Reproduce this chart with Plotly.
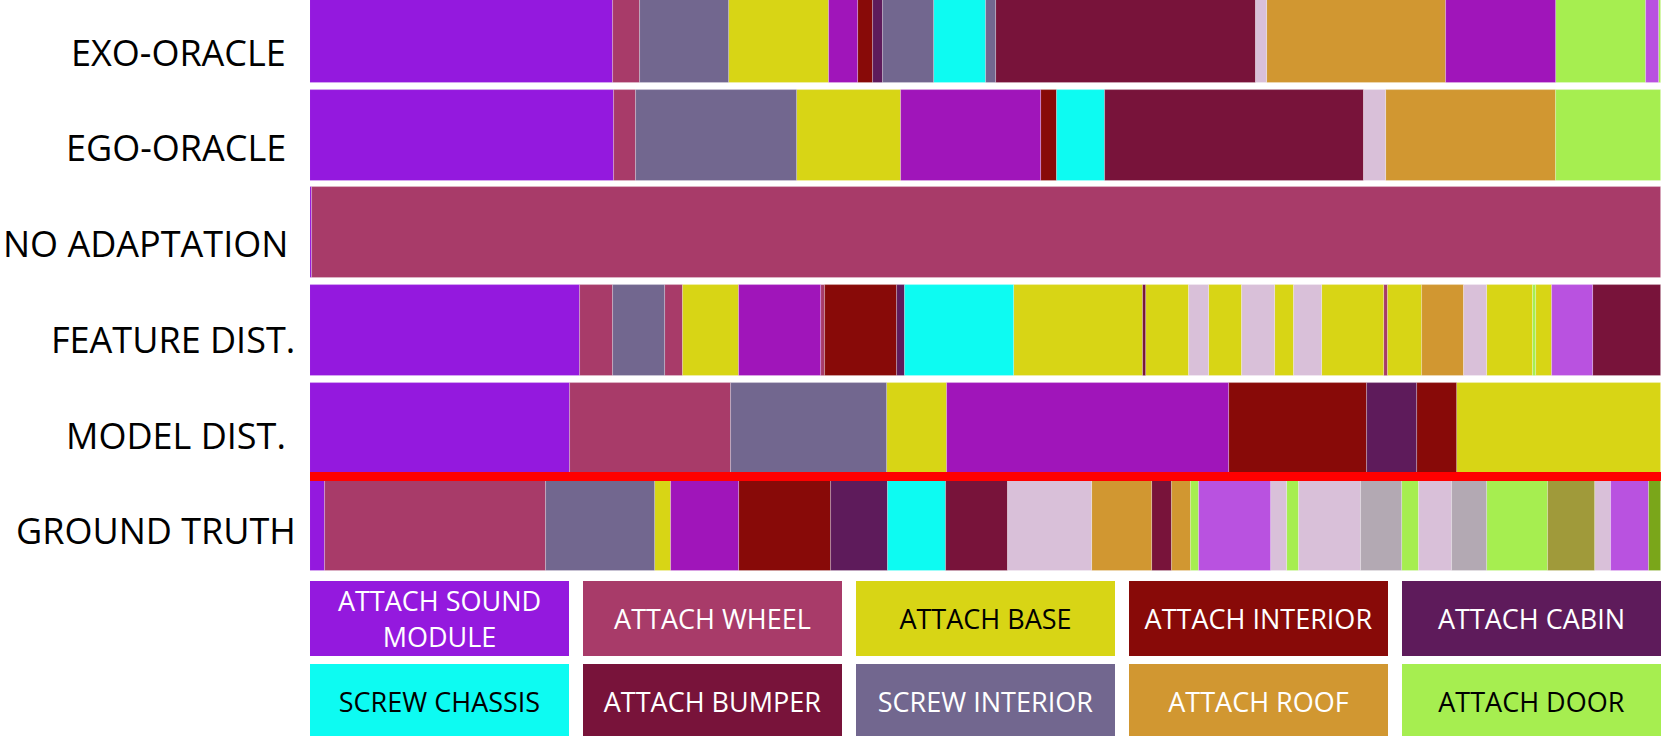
import plotly.graph_objects as go

# ---------------- data ----------------
ROWS = ["EXO-ORACLE", "EGO-ORACLE", "NO ADAPTATION", "FEATURE DIST.", "MODEL DIST.", "GROUND TRUTH"]

# action classes (first ten appear in the key)
ACTIONS = ["ATTACH SOUND MODULE", "ATTACH WHEEL", "ATTACH BASE", "ATTACH INTERIOR", "ATTACH CABIN",
           "SCREW CHASSIS", "ATTACH BUMPER", "SCREW INTERIOR", "ATTACH ROOF", "ATTACH DOOR",
           "OTHER A", "OTHER B", "OTHER C", "OTHER D", "OTHER E", "OTHER F"]
COLORS = ["#9419DE", "#A83B69", "#D8D515", "#880A08", "#5E1B5B",
          "#0DFBF2", "#78133A", "#72678F", "#D19731", "#A6EE50",
          "#A015BA", "#D9C0D9", "#B952E0", "#B3A9B3", "#A09A3A", "#7AA61A"]
KEY_LABELS = ["ATTACH SOUND<br>MODULE", "ATTACH WHEEL", "ATTACH BASE", "ATTACH INTERIOR", "ATTACH CABIN",
              "SCREW CHASSIS", "ATTACH BUMPER", "SCREW INTERIOR", "ATTACH ROOF", "ATTACH DOOR"]
KEY_TEXT_COLORS = ["white", "white", "black", "white", "white",
                   "black", "white", "white", "white", "black"]

S, W, B, I, C = "ATTACH SOUND MODULE", "ATTACH WHEEL", "ATTACH BASE", "ATTACH INTERIOR", "ATTACH CABIN"
CH, BU, SI, R, D = "SCREW CHASSIS", "ATTACH BUMPER", "SCREW INTERIOR", "ATTACH ROOF", "ATTACH DOOR"
PA, LP, LV, GR, OL, DG = "OTHER A", "OTHER B", "OTHER C", "OTHER D", "OTHER E", "OTHER F"

exo_actions = [S, W, SI, B, PA, I, C, SI, CH, SI, BU, LP, R, PA, D, LV, D]
exo_durations = [302.5, 27.7, 89.2, 99.6, 29, 15, 10, 51, 52, 9.5, 260, 11.8, 178.7, 109.6, 89.9, 13.5, 2]

ego_actions = [S, W, SI, B, PA, I, CH, BU, LP, R, D]
ego_durations = [304.3, 21.9, 161.1, 103.6, 140, 16, 48.1, 259.3, 21.9, 169.4, 105.4]

noad_actions = [S, W]
noad_durations = [2, 1349]

feat_actions = [S, W, SI, W, B, PA, W, I, C, CH, B, BU, B, LP, B, LP, B, LP, B, W, B, R, LP, B, D, B, LV, BU]
feat_durations = [269.5, 33, 52.7, 17.4, 56.2, 82.2, 3.5, 72.8, 7.6, 109, 128.6, 3.8, 43, 19.8, 32.9,
                  32.5, 19.8, 27.8, 62, 3.8, 33.7, 42.6, 23.2, 45.1, 3.4, 16, 40.9, 68.2]

model_actions = [S, W, SI, B, PA, I, C, I, B]
model_durations = [259.6, 161.6, 156.2, 59.9, 281.2, 138.3, 50.6, 39.2, 204.4]

gt_actions = [S, W, SI, B, PA, I, C, CH, BU, LP, R, BU, R, D, LV, LP, D, LP, GR, D, LP, GR, D, OL, LP, LV, DG]
gt_durations = [15.4, 220.6, 108.9, 16.1, 67.8, 92, 56.7, 58.5, 62, 83.9, 60.3, 19.8, 19.4, 7.6, 71.7,
                16.4, 11.4, 62.4, 41.3, 16.9, 33.3, 35, 60.7, 46.4, 16, 38.8, 11.7]

ROW_DATA = {
    "EXO-ORACLE": (exo_actions, exo_durations),
    "EGO-ORACLE": (ego_actions, ego_durations),
    "NO ADAPTATION": (noad_actions, noad_durations),
    "FEATURE DIST.": (feat_actions, feat_durations),
    "MODEL DIST.": (model_actions, model_durations),
    "GROUND TRUTH": (gt_actions, gt_durations),
}

# ---------------- build traces ----------------
per_action = {a: {"y": [], "x": [], "base": []} for a in ACTIONS}
total = 0
for row in ROWS:
    acts, durs = ROW_DATA[row]
    start = 0.0
    for a, d in zip(acts, durs):
        per_action[a]["y"].append(row)
        per_action[a]["x"].append(d)
        per_action[a]["base"].append(start)
        start += d
    total = max(total, start)

fig = go.Figure()
for a, col in zip(ACTIONS, COLORS):
    seg = per_action[a]
    if not seg["x"]:
        continue
    fig.add_trace(go.Bar(
        y=seg["y"], x=seg["x"], base=seg["base"], orientation="h", name=a,
        marker=dict(color=col, line=dict(color="rgba(255,255,255,0.3)", width=0.8)),
        width=0.93, showlegend=False,
        hovertemplate=a + "<br>%{base:.0f} – %{x:.0f}<extra></extra>",
    ))

W_FIG, H_FIG = 1661, 736
L_M = 310
fig.update_layout(
    width=W_FIG, height=H_FIG,
    margin=dict(l=L_M, r=0, t=0, b=0),
    paper_bgcolor="white", plot_bgcolor="white",
    barmode="overlay", bargap=0,
    font=dict(family="Open Sans", color="black"),
)
fig.update_xaxes(range=[0, total], showticklabels=False, showgrid=False, zeroline=False,
                 showline=False, ticks="")
fig.update_yaxes(categoryorder="array", categoryarray=ROWS[::-1],
                 range=[-2.154, 5.385], showgrid=False, zeroline=False, showline=False,
                 ticks="", showticklabels=False)

# row labels (text sits slightly below each bar's centre, more so towards the top)
label_xshift = [0, 0, 2, 9, 0, 10]
for i, row in enumerate(ROWS):
    fig.add_annotation(
        xref="paper", yref="y", x=0, y=row, xanchor="right", yanchor="middle",
        xshift=-22 + label_xshift[i], yshift=-(14.7 - 1.94 * i), text=row, showarrow=False,
        font=dict(family="Open Sans", size=36, color="black"),
    )

# red separator between predictions and ground truth
fig.add_shape(type="rect", xref="x domain", yref="y", x0=0, x1=1, y0=0.459, y1=0.551,
              fillcolor="#FF0000", line=dict(width=0), layer="above")

# colour key
plot_w = W_FIG - L_M
box_w, box_h, pitch = 259, 75, 272.9
row_centers_px = [618.4, 701.7]
for k, (lab, col, tcol) in enumerate(zip(KEY_LABELS, COLORS[:10], KEY_TEXT_COLORS)):
    r, c = divmod(k, 5)
    cx = (box_w / 2 + c * pitch) / plot_w
    cy = 1 - row_centers_px[r] / H_FIG
    fig.add_annotation(
        xref="paper", yref="paper", x=cx, y=cy, xanchor="center", yanchor="middle",
        text=lab, showarrow=False, width=box_w, height=box_h, borderpad=0, borderwidth=0,
        bgcolor=col, align="center", valign="middle",
        font=dict(family="Open Sans", size=27, color=tcol),
    )

fig.write_html("out.html", config={"displayModeBar": False},
               post_script="document.body.style.margin='0';document.body.style.overflow='hidden';")
